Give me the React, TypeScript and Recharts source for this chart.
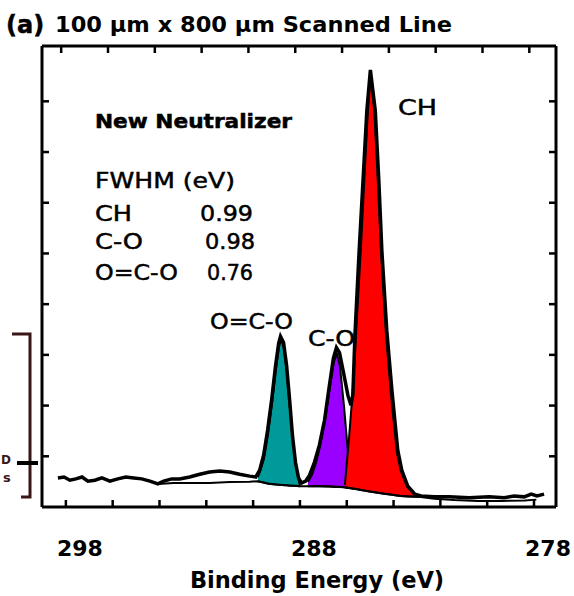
import { ComposedChart, Area, Line, XAxis, YAxis } from 'recharts';

// binding energy in eV, intensity in arbitrary units (0-100 of the frame height)
const envelopeEv = [
  298.94, 298.68, 298.43, 298.17, 297.91, 297.66, 297.36, 297.06, 296.72, 296.38,
  296.04, 295.7, 295.36, 295.01, 294.67, 294.42, 294.08, 293.74, 293.31, 292.88,
  292.46, 292.03, 291.6, 291.18, 290.75, 290.49, 290.32, 290.15, 289.98, 289.81,
  289.64, 289.51, 289.43, 289.3, 289.17, 289.04, 288.92, 288.79, 288.66, 288.53,
  288.36, 288.19, 287.98, 287.77, 287.55, 287.34, 287.17, 287.04, 286.91, 286.74,
  286.55, 286.42, 286.34, 286.25, 286.08, 285.91, 285.74, 285.59, 285.38, 285.23,
  285.1, 284.89, 284.67, 284.42, 284.25, 283.99, 283.69, 283.42, 282.86, 282.22,
  281.37, 280.52, 279.88, 279.45, 279.02, 278.72, 278.47, 278.17,
];
const envelopeVal = [
  6.3, 6.5, 5.8, 6.1, 6.5, 5.6, 5.8, 6.3, 5.6, 6.1,
  6.5, 6.3, 6.1, 5.6, 5.0, 5.6, 6.1, 6.1, 6.5, 7.1,
  7.6, 7.8, 7.6, 7.1, 6.7, 6.5, 8.0, 11.3, 16.7, 23.2,
  30.7, 35.5, 37.0, 35.7, 30.7, 23.2, 15.6, 9.7, 6.3, 5.2,
  5.6, 6.9, 9.7, 13.4, 18.8, 26.4, 32.3, 34.6, 33.5, 29.2,
  24.2, 22.1, 24.3, 37.3, 54.7, 70.3, 86.1, 94.8, 85.9, 70.8,
  55.6, 38.3, 25.3, 12.3, 8.0, 4.5, 2.8, 2.4, 2.2, 2.2,
  2.0, 2.2, 2.0, 2.4, 2.2, 2.8, 2.4, 2.8,
];

// fitted background
const bgEv = [294.67, 294.0, 293.31, 292.46, 291.6, 290.75, 290.41, 289.9, 289.43, 288.62, 287.77, 286.68, 286.0, 285.14, 284.29, 283.52, 282.86, 282.0, 281.0, 280.0, 279.0, 278.5];
const bgVal = [5.0, 5.2, 5.2, 5.2, 5.4, 5.5, 5.6, 5.0, 4.8, 4.5, 4.5, 4.3, 3.7, 3.0, 2.4, 2.2, 1.8, 1.5, 1.3, 1.3, 1.4, 1.6];

// O=C-O component
const ocoEv = [290.4, 290.31, 290.14, 289.97, 289.8, 289.63, 289.5, 289.41, 289.29, 289.16, 289.03, 288.9, 288.77, 288.6];
const ocoHi = [6.5, 7.6, 10.4, 15.6, 22.1, 29.7, 34.6, 36.4, 34.6, 29.2, 21.4, 14.5, 8.7, 4.5];
const ocoLo = [5.6, 5.5, 5.3, 5.1, 5.0, 4.9, 4.8, 4.8, 4.7, 4.7, 4.6, 4.6, 4.6, 4.5];

// C-O component
const coEv = [288.26, 288.09, 287.92, 287.75, 287.53, 287.32, 287.15, 287.02, 286.89, 286.72, 286.55, 286.42, 286.3];
const coHi = [5.4, 6.9, 9.5, 13.0, 18.8, 26.0, 31.4, 33.3, 30.5, 22.0, 12.0, 5.5, 4.3];
const coLo = [4.5, 4.5, 4.5, 4.5, 4.5, 4.5, 4.4, 4.4, 4.4, 4.3, 4.2, 4.1, 4.0];

// CH component
const chEv = [286.68, 286.51, 286.34, 286.17, 286.0, 285.85, 285.7, 285.57, 285.42, 285.27, 285.14, 284.93, 284.72, 284.46, 284.29, 284.03, 283.73, 283.52];
const chHi = [4.8, 14.5, 25.4, 40.6, 55.7, 70.9, 85.7, 93.9, 85.7, 70.5, 55.7, 38.0, 24.9, 11.9, 7.8, 4.5, 2.8, 2.2];
const chLo = [4.3, 4.1, 4.0, 3.9, 3.7, 3.6, 3.4, 3.3, 3.2, 3.1, 3.0, 2.8, 2.7, 2.5, 2.4, 2.3, 2.2, 2.2];

const bottomTicks = [298.6, 296.6, 294.6, 292.6, 290.6, 288.6, 286.6, 284.6, 282.6, 280.6, 278.6];
const bottomLabels = [298, 288, 278];
const topTicks = [298.8, 296.8, 294.8, 292.8, 290.8, 288.8, 286.8, 284.8, 282.8, 280.8, 278.8];
const yTicks = [11, 22, 33, 44, 55, 66, 77, 88];

const fwhmNames = ['CH', 'C-O', 'O=C-O'];
const fwhmValues = ['0.99', '0.98', '0.76'];

const envelope = envelopeEv.map((e, i) => ({ e, v: envelopeVal[i] }));
const background = bgEv.map((e, i) => ({ e, v: bgVal[i] }));
const band = (ev: number[], lo: number[], hi: number[]) => ev.map((e, i) => ({ e, r: [lo[i], hi[i]] }));
const oco = band(ocoEv, ocoLo, ocoHi);
const co = band(coEv, coLo, coHi);
const ch = band(chEv, chLo, chHi);

const FONT = "'DejaVu Sans', sans-serif";
const X_DOMAIN = [277.66, 299.62];

const BottomTick = ({ x, y, payload }: any) => {
  if (bottomLabels.includes(payload.value)) {
    return (
      <text x={x} y={y + 49} textAnchor="middle" fontFamily={FONT} fontWeight="bold" fontSize={22} fill="#000">
        {payload.value}
      </text>
    );
  }
  return <line x1={x} x2={x} y1={y} y2={y - 7} stroke="#000" strokeWidth={2.5} />;
};
const TopTick = ({ x, y }: any) => <line x1={x} x2={x} y1={y} y2={y + 7} stroke="#000" strokeWidth={2.5} />;
const LeftTick = ({ x, y }: any) => <line x1={x} x2={x + 7} y1={y} y2={y} stroke="#000" strokeWidth={2.5} />;
const RightTick = ({ x, y }: any) => <line x1={x} x2={x - 7} y1={y} y2={y} stroke="#000" strokeWidth={2.5} />;

const frame = { stroke: '#000', strokeWidth: 3 };
const rowY = [221, 249, 280];
const valX = [200, 205, 207];
const nameW = [37, 48, 83];
const valW = [53, 50, 46];
// scanned text looks a little heavier than the plain font
const heavy = { stroke: '#000', strokeWidth: 0.5 };

export default function App() {
  return (
    <div style={{ position: 'absolute', left: 0, top: 0, width: 574, height: 596, background: '#fff' }}>
      <ComposedChart width={574} height={596} margin={{ top: 36, right: 8, bottom: 59, left: 32 }}>
        <XAxis
          type="number"
          dataKey="e"
          domain={X_DOMAIN}
          reversed
          allowDataOverflow
          ticks={[...bottomTicks, ...bottomLabels]}
          interval={0}
          tick={(p: any) => <BottomTick {...p} />}
          tickLine={false}
          tickSize={0}
          tickMargin={0}
          axisLine={frame}
          height={30}
        />
        <XAxis
          xAxisId="top"
          orientation="top"
          type="number"
          dataKey="e"
          domain={X_DOMAIN}
          reversed
          allowDataOverflow
          ticks={topTicks}
          interval={0}
          tick={(p: any) => <TopTick {...p} />}
          tickLine={false}
          tickSize={0}
          tickMargin={0}
          axisLine={frame}
          height={10}
        />
        <YAxis
          type="number"
          domain={[0, 100]}
          allowDataOverflow
          ticks={yTicks}
          interval={0}
          tick={(p: any) => <LeftTick {...p} />}
          tickLine={false}
          tickSize={0}
          tickMargin={0}
          axisLine={frame}
          width={10}
        />
        <YAxis
          yAxisId="r"
          orientation="right"
          type="number"
          domain={[0, 100]}
          allowDataOverflow
          ticks={yTicks}
          interval={0}
          tick={(p: any) => <RightTick {...p} />}
          tickLine={false}
          tickSize={0}
          tickMargin={0}
          axisLine={frame}
          width={10}
        />
        <Line data={background} dataKey="v" type="linear" stroke="#000" strokeWidth={2} dot={false} activeDot={false} isAnimationActive={false} />
        <Area data={oco} dataKey="r" type="linear" fill="#009a9a" fillOpacity={1} stroke="#000" strokeWidth={2} dot={false} activeDot={false} isAnimationActive={false} />
        <Area data={co} dataKey="r" type="linear" fill="#9900ff" fillOpacity={1} stroke="#000" strokeWidth={2} dot={false} activeDot={false} isAnimationActive={false} />
        <Area data={ch} dataKey="r" type="linear" fill="#ff0000" fillOpacity={1} stroke="#000" strokeWidth={2} dot={false} activeDot={false} isAnimationActive={false} />
        <Line data={envelope} dataKey="v" type="linear" stroke="#000" strokeWidth={3.5} dot={false} activeDot={false} isAnimationActive={false} />
      </ComposedChart>

      <svg width={574} height={596} style={{ position: 'absolute', left: 0, top: 0, pointerEvents: 'none' }} fontFamily={FONT}>
        <text x={6} y={33} fontWeight="bold" fontSize={24} {...heavy}>(a)</text>
        <text x={55} y={32} fontWeight="bold" fontSize={22} textLength={397} lengthAdjust="spacingAndGlyphs">
          100 µm x 800 µm Scanned Line
        </text>
        <text x={95} y={128} fontWeight="bold" fontSize={19} textLength={197} lengthAdjust="spacingAndGlyphs" {...heavy}>
          New Neutralizer
        </text>
        <text x={95} y={188} fontSize={22} textLength={140} lengthAdjust="spacingAndGlyphs" {...heavy}>FWHM (eV)</text>
        {fwhmNames.map((n, i) => (
          <g key={n}>
            <text x={95} y={rowY[i]} fontSize={22} textLength={nameW[i]} lengthAdjust="spacingAndGlyphs" {...heavy}>{n}</text>
            <text x={valX[i]} y={rowY[i]} fontSize={22} textLength={valW[i]} lengthAdjust="spacingAndGlyphs" {...heavy}>{fwhmValues[i]}</text>
          </g>
        ))}
        <text x={210} y={329} fontSize={22} textLength={83} lengthAdjust="spacingAndGlyphs" {...heavy}>O=C-O</text>
        <text x={308} y={346} fontSize={22} textLength={47} lengthAdjust="spacingAndGlyphs" {...heavy}>C-O</text>
        <text x={398} y={115} fontSize={22} textLength={39} lengthAdjust="spacingAndGlyphs" {...heavy}>CH</text>
        <text x={317} y={588} textAnchor="middle" fontWeight="bold" fontSize={22.5}>Binding Energy (eV)</text>

        <path d="M12,334 L30,334 L30,497 L21,497" stroke="#3a1515" strokeWidth={3} fill="none" />
        <rect x={17} y={461} width={21} height={4} fill="#000" />
        <text x={1} y={464} fontWeight="bold" fontSize={12} fill="#3a1515">D</text>
        <text x={3} y={482} fontWeight="bold" fontSize={13} fill="#3a1515">s</text>
      </svg>
    </div>
  );
}
